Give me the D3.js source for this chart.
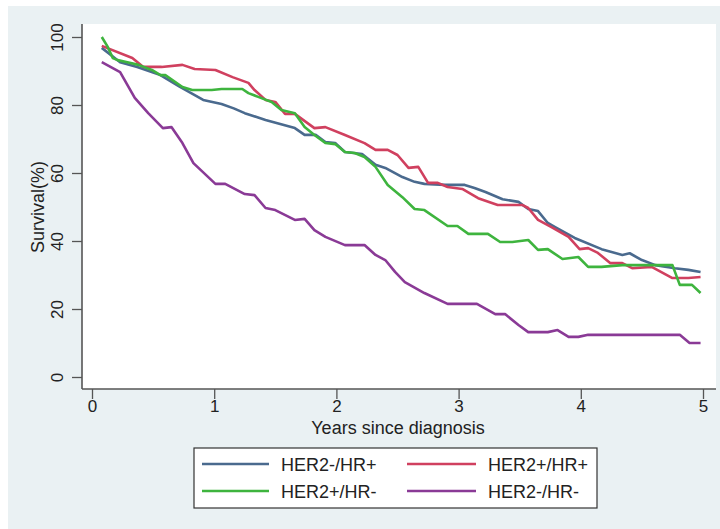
<!DOCTYPE html>
<html><head><meta charset="utf-8">
<script src="https://cdn.jsdelivr.net/npm/d3@7"></script>
<style>body{margin:0;background:#fff;} svg{display:block;font-family:"Liberation Sans",Arial,sans-serif;}</style>
</head><body>
<svg id="c" width="720" height="529"></svg>
<script>
const seriesNames = ["HER2-/HR+", "HER2+/HR+", "HER2+/HR-", "HER2-/HR-"];
const seriesColors = ["#4a6a8e", "#d0405f", "#3eb43e", "#8a3a96"];
const xTicks = [0, 1, 2, 3, 4, 5];
const yTicks = [0, 20, 40, 60, 80, 100];
const xLabel = "Years since diagnosis";
const yLabel = "Survival(%)";

const blueT = [0.08,0.23,0.37,0.56,0.72,0.91,1.06,1.16,1.25,1.42,1.66,1.74,1.83,1.91,1.99,2.07,2.21,2.32,2.40,2.54,2.64,2.72,2.89,3.05,3.13,3.22,3.36,3.49,3.57,3.65,3.73,3.79,3.95,4.17,4.34,4.40,4.50,4.61,4.77,4.88,4.98];
const blueV = [96.8,92.6,91.2,88.8,85.3,81.5,80.3,79,77.6,75.6,73.2,71.2,71.2,69.1,68.8,66.2,65.6,62.4,61.5,58.8,57.4,56.8,56.5,56.5,55.6,54.4,52.3,51.5,49.4,48.8,45.3,44.1,40.9,37.6,35.9,36.4,34.4,32.9,32,31.5,30.9];

const redT = [0.08,0.33,0.42,0.57,0.74,0.84,1.01,1.15,1.28,1.33,1.42,1.50,1.58,1.66,1.82,1.91,2.07,2.23,2.32,2.42,2.50,2.59,2.67,2.75,2.83,2.91,3.03,3.16,3.32,3.52,3.57,3.65,3.76,3.90,3.99,4.06,4.14,4.24,4.34,4.42,4.58,4.75,4.88,4.98];
const redV = [97.4,93.8,91.2,91.2,91.8,90.6,90.3,88.2,86.5,84.4,81.5,80.9,77.4,77.4,73.2,73.5,71.2,68.8,66.8,66.8,65.3,61.5,61.8,57.1,57.1,55.9,55.3,52.6,50.6,50.6,49.7,46.2,44.1,41.2,37.6,37.9,36.5,33.5,33.5,32,32.4,29.1,29.1,29.4];

const greenT = [0.08,0.13,0.17,0.21,0.29,0.38,0.49,0.56,0.60,0.74,0.82,0.98,1.06,1.23,1.28,1.36,1.47,1.55,1.66,1.74,1.82,1.91,1.99,2.07,2.15,2.23,2.32,2.42,2.54,2.64,2.72,2.91,2.99,3.08,3.24,3.34,3.44,3.57,3.65,3.73,3.85,3.98,4.06,4.17,4.34,4.75,4.81,4.91,4.98];
const greenV = [100,97,93.8,93.2,92.6,91.8,90.3,88.8,88.8,85.3,84.4,84.4,84.7,84.7,83.5,82.4,80.9,78.5,77.6,73.5,71.2,68.8,68.5,66.2,65.9,64.7,61.8,56.5,52.9,49.4,49.1,44.4,44.4,42.1,42.1,39.7,39.7,40.3,37.4,37.6,34.7,35.3,32.4,32.4,32.9,32.9,27.1,27.1,24.7];

const purpleT = [0.08,0.23,0.35,0.46,0.58,0.65,0.74,0.83,1.01,1.09,1.25,1.33,1.42,1.50,1.66,1.74,1.82,1.91,2.07,2.23,2.32,2.40,2.48,2.56,2.72,2.91,3.15,3.30,3.38,3.49,3.57,3.73,3.81,3.90,3.98,4.06,4.81,4.89,4.98];
const purpleV = [92.6,89.7,82.1,77.6,73.2,73.5,68.8,62.9,56.8,56.8,53.8,53.5,49.7,49.1,46.2,46.5,43.2,41.2,38.8,38.8,35.9,34.4,30.9,27.9,24.7,21.5,21.5,18.5,18.5,15.3,13.2,13.2,13.8,11.8,11.8,12.4,12.4,10,10];

const seriesT = [blueT, redT, greenT, purpleT];
const seriesV = [blueV, redV, greenV, purpleV];

const svg = d3.select("#c");
const font = 18;
const tickFont = 17;
// outer panel
svg.append("rect").attr("x",8).attr("y",6).attr("width",712).attr("height",523).attr("fill","#eaf1f3");
// plot region
const P = {l:82, t:24, r:716, b:389};
svg.append("rect").attr("x",P.l).attr("y",P.t).attr("width",P.r-P.l).attr("height",P.b-P.t).attr("fill","#ffffff");

const x = d3.scaleLinear().domain([0,5]).range([92,703]);
const y = d3.scaleLinear().domain([0,100]).range([377,37]);

const line = d3.line().x(d=>x(d[0])).y(d=>y(d[1]));
seriesT.forEach((ts,i)=>{
  const pts = ts.map((t,j)=>[t, seriesV[i][j]]);
  svg.append("path").attr("d", line(pts)).attr("fill","none")
    .attr("stroke", seriesColors[i]).attr("stroke-width",2.6).attr("stroke-linejoin","round");
});

// axes
const axisColor = "#555";
const xAxis = svg.append("g").attr("transform",`translate(0,${P.b})`)
  .call(d3.axisBottom(x).tickValues(xTicks).tickSize(10).tickPadding(1).tickFormat(d3.format("d")));
xAxis.select(".domain").attr("d",`M${P.l},0H${P.r}`).attr("stroke",axisColor).attr("stroke-width",1.6);
xAxis.selectAll(".tick line").attr("stroke",axisColor).attr("stroke-width",1.3);
xAxis.selectAll(".tick text").attr("font-size",tickFont).attr("fill","#222").attr("font-family","Liberation Sans, Arial, sans-serif");

const yAxis = svg.append("g").attr("transform",`translate(${P.l},0)`)
  .call(d3.axisLeft(y).tickValues(yTicks).tickSize(10).tickPadding(0).tickFormat(d3.format("d")));
yAxis.select(".domain").attr("d",`M0,${P.t}V${P.b}`).attr("stroke",axisColor).attr("stroke-width",1.6);
yAxis.selectAll(".tick line").attr("stroke",axisColor).attr("stroke-width",1.3);
yAxis.selectAll(".tick text").attr("font-size",tickFont).attr("fill","#222")
  .attr("font-family","Liberation Sans, Arial, sans-serif")
  .attr("text-anchor","middle").attr("x",null).attr("dy",null)
  .attr("transform","translate(-19,0) rotate(-90)");

// axis titles
svg.append("text").attr("x",398).attr("y",434).attr("text-anchor","middle")
  .attr("font-size",font).attr("fill","#222").text(xLabel);
svg.append("text").attr("transform","translate(44,207) rotate(-90)").attr("text-anchor","middle")
  .attr("font-size",font).attr("fill","#222").text(yLabel);

// legend
const lg = svg.append("g");
lg.append("rect").attr("x",194).attr("y",448).attr("width",403).attr("height",60)
  .attr("fill","#fff").attr("stroke","#333").attr("stroke-width",1.2);
const cols = [[202,269,281],[407,476,488]];
const rows = [464,491];
seriesNames.forEach((n,i)=>{
  const c = cols[i%2], r = rows[Math.floor(i/2)];
  lg.append("line").attr("x1",c[0]).attr("x2",c[1]).attr("y1",r).attr("y2",r)
    .attr("stroke",seriesColors[i]).attr("stroke-width",2.4);
  lg.append("text").attr("x",c[2]).attr("y",r+6.5).attr("font-size",font).attr("fill","#222").text(n);
});
</script>
</body></html>
